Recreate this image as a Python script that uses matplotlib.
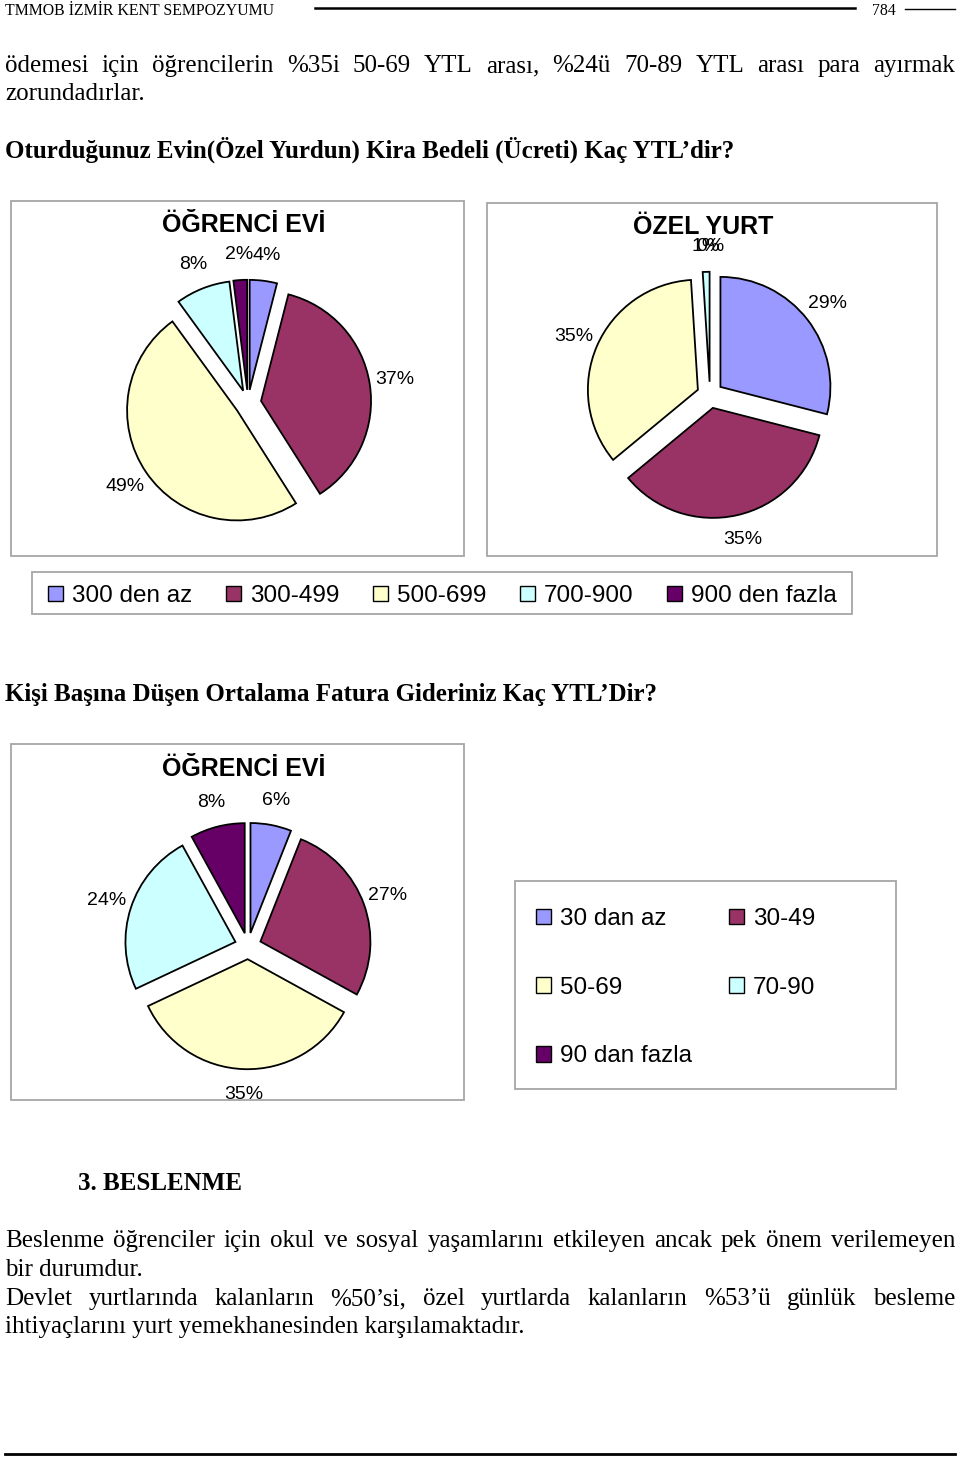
import matplotlib
matplotlib.use("Agg")
import matplotlib.pyplot as plt
from matplotlib.patches import Rectangle, Patch
from matplotlib.lines import Line2D

W, H = 960, 1458

# --- data ---
rent_labels = ["300 den az", "300-499", "500-699", "700-900", "900 den fazla"]
rent_ogrenci_evi = [4, 37, 49, 8, 2]
rent_ozel_yurt = [29, 35, 35, 1, 0]

bill_labels = ["30 dan az", "30-49", "50-69", "70-90", "90 dan fazla"]
bill_ogrenci_evi = [6, 27, 35, 24, 8]

colors = ["#9999FF", "#993366", "#FFFFCC", "#CCFFFF", "#660066"]

SERIF = "Liberation Serif"
SANS = "Liberation Sans"

fig = plt.figure(figsize=(W / 100, H / 100), dpi=100)


def fx(x):
    return x / W


def fy(y):
    return 1 - y / H


def line_text(y, text, x0=5, x1=955, justify=False, **kw):
    # y is the baseline in pixels from the top
    kw.setdefault("family", SERIF)
    kw.setdefault("fontsize", 18)
    if not justify:
        fig.text(fx(x0), fy(y), text, va="baseline", ha="left", **kw)
        return
    words = text.split()
    objs = [fig.text(fx(x0), fy(y), w, va="baseline", ha="left", **kw) for w in words]
    r = fig.canvas.get_renderer()
    widths = [o.get_window_extent(r).width for o in objs]
    gap = (x1 - x0 - sum(widths)) / (len(words) - 1)
    x = x0
    for o, w in zip(objs, widths):
        o.set_x(fx(x))
        x += w + gap


def box(x0, y0, x1, y1):
    fig.patches.append(Rectangle((fx(x0), fy(y1)), (x1 - x0) / W, (y1 - y0) / H,
                                 transform=fig.transFigure, fill=False,
                                 edgecolor="#A6A6A6", linewidth=1.3))


def hline(x0, x1, y, lw):
    fig.add_artist(Line2D([fx(x0), fx(x1)], [fy(y), fy(y)], color="black",
                          linewidth=lw, transform=fig.transFigure))


def pie(values, cx, cy, title, tx, ty):
    R, L = 110, 1.6
    S = 2 * L * R
    ax = fig.add_axes([fx(cx - S / 2), fy(cy + S / 2), S / W, S / H])
    wedges, texts, autotexts = ax.pie(
        values, colors=colors, startangle=90, counterclock=False,
        explode=[0.12] * len(values), pctdistance=1.23,
        autopct=lambda p: f"{p:.0f}%",
        wedgeprops=dict(edgecolor="black", linewidth=1.3),
        textprops=dict(family=SANS, fontsize=14))
    for wdg, v in zip(wedges, values):
        if v == 0:
            wdg.set_visible(False)
    ax.set_xlim(-L, L)
    ax.set_ylim(-L, L)
    ax.set_aspect("equal")
    ax.axis("off")
    fig.text(fx(tx), fy(ty), title, family=SANS, fontsize=18, fontweight="bold",
             ha="center", va="center")


# --- header ---
fig.text(fx(5), fy(15), "TMMOB İZMİR KENT SEMPOZYUMU", family=SERIF, fontsize=11.4,
         va="baseline", ha="left")
hline(315, 855, 8, 1.8)
fig.text(fx(884), fy(15), "784", family=SERIF, fontsize=11.4, va="baseline", ha="center")
hline(905, 955, 9, 1.0)

# --- text ---
line_text(72, "ödemesi için öğrencilerin %35i 50-69 YTL arası, %24ü 70-89 YTL arası para ayırmak",
          justify=True)
line_text(100, "zorundadırlar.")
line_text(158, "Oturduğunuz Evin(Özel Yurdun) Kira Bedeli (Ücreti) Kaç YTL’dir?",
          fontweight="bold")

# --- rent charts ---
box(11, 201, 464, 556)
box(487, 203, 937, 556)
pie(rent_ogrenci_evi, 248, 403, "ÖĞRENCİ EVİ", 244, 225)
pie(rent_ozel_yurt, 710, 395, "ÖZEL YURT", 703, 227)

box(32, 572, 852, 614)
handles = [Patch(facecolor=c, edgecolor="black", linewidth=1.0) for c in colors]
fig.legend(handles, rent_labels, loc="center left", bbox_to_anchor=(fx(36), fy(596)),
           ncol=5, frameon=False, borderpad=0, handlelength=0.62, handleheight=0.62,
           handletextpad=0.35, columnspacing=1.4, prop=dict(family=SANS, size=17.5))

# --- bill chart ---
line_text(701, "Kişi Başına Düşen Ortalama Fatura Gideriniz Kaç YTL’Dir?", fontweight="bold")
box(11, 744, 464, 1100)
pie(bill_ogrenci_evi, 248, 946, "ÖĞRENCİ EVİ", 244, 769)

box(515, 881, 896, 1089)
order = [0, 2, 4, 1, 3]
fig.legend([handles[i] for i in order], [bill_labels[i] for i in order],
           loc="upper left", bbox_to_anchor=(fx(524), fy(896)), ncol=2, frameon=False,
           borderpad=0, handlelength=0.62, handleheight=0.62, handletextpad=0.35,
           columnspacing=1.55, labelspacing=1.92, prop=dict(family=SANS, size=17.5))

# --- section text ---
line_text(1190, "3. BESLENME", x0=78, fontweight="bold")
line_text(1247, "Beslenme öğrenciler için okul ve sosyal yaşamlarını etkileyen ancak pek önem verilemeyen",
          justify=True)
line_text(1276, "bir durumdur.")
line_text(1305, "Devlet yurtlarında kalanların %50’si, özel yurtlarda kalanların %53’ü günlük besleme",
          justify=True)
line_text(1333, "ihtiyaçlarını yurt yemekhanesinden karşılamaktadır.")

hline(5, 955, 1454, 2.0)

fig.savefig("out.png", dpi=100, facecolor="white")
